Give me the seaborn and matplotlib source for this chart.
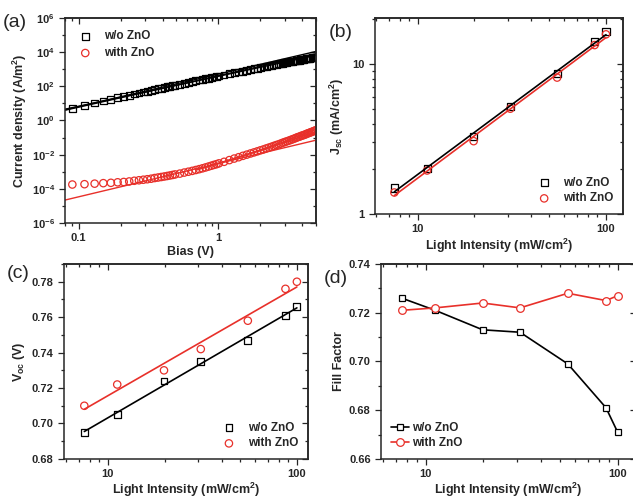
import numpy as np
import matplotlib
matplotlib.use("Agg")
import matplotlib.pyplot as plt
import matplotlib.ticker as mticker
import seaborn as sns

# ---------------- data ----------------
# (a) J-V curves
bias = [0.09, 0.11, 0.13, 0.15, 0.17, 0.19, 0.21, 0.23, 0.25, 0.27, 0.29,
        0.31, 0.33, 0.35, 0.37, 0.39, 0.41, 0.43, 0.45, 0.47, 0.49, 0.53,
        0.57, 0.61, 0.65, 0.69, 0.73, 0.77, 0.81, 0.85, 0.89, 0.93, 0.97,
        1.01, 1.1, 1.2, 1.3, 1.4, 1.5, 1.6, 1.7, 1.8, 1.9, 2.0, 2.1, 2.2,
        2.3, 2.4, 2.5, 2.6, 2.7, 2.8, 2.9, 3.0, 3.1, 3.2, 3.3, 3.4, 3.5,
        3.6, 3.7, 3.8, 3.9, 4.0, 4.1, 4.2, 4.3, 4.4, 4.5, 4.6, 4.7, 4.8,
        4.9, 5.0]
j_wo = [5.2, 7.7, 10.5, 13.8, 17.4, 21.4, 25.6, 30.4, 35.3, 40.6, 46.2,
        52.0, 58.2, 64.7, 71.4, 78.3, 85.7, 93.1, 101, 109, 117, 134,
        152, 171, 191, 212, 233, 256, 279, 303, 327, 352, 378,
        405, 467, 540, 616, 697, 780, 867, 957, 1050, 1147, 1247, 1349, 1452,
        1560, 1671, 1782, 1897, 2013, 2132, 2253, 2377, 2503, 2630, 2761, 2893, 3027,
        3162, 3299, 3439, 3581, 3722, 3868, 4015, 4161, 4312, 4463, 4616, 4773, 4924,
        5082, 5250]
j_with = [1.78e-4, 1.86e-4, 2.0e-4, 2.14e-4, 2.24e-4, 2.4e-4, 2.51e-4, 2.69e-4,
          2.95e-4, 3.16e-4, 3.39e-4, 3.63e-4, 3.89e-4, 4.27e-4, 4.57e-4, 4.9e-4,
          5.25e-4, 5.62e-4, 6.03e-4, 6.46e-4, 6.92e-4, 7.76e-4, 8.91e-4, 1.0e-3,
          1.12e-3, 1.26e-3, 1.41e-3, 1.58e-3, 1.78e-3, 2.0e-3, 2.24e-3, 2.51e-3,
          2.75e-3, 3.09e-3, 3.8e-3, 4.79e-3, 5.89e-3, 7.08e-3, 8.51e-3, 1.0e-2,
          1.17e-2, 1.35e-2, 1.55e-2, 1.78e-2, 2.0e-2, 2.29e-2,
          2.57e-2, 2.88e-2, 3.24e-2, 3.63e-2, 3.98e-2, 4.47e-2, 5.0e-2,
          5.5e-2, 6.03e-2, 6.61e-2, 7.24e-2, 7.94e-2, 8.71e-2,
          9.55e-2, 0.105, 0.112, 0.123, 0.132, 0.141, 0.151, 0.166, 0.178,
          0.191, 0.204, 0.219, 0.234, 0.251, 0.269]

# fitted lines in (a)
fit_v = [0.08, 5.0]
fit_wo_1 = [4.3, 11000]
fit_wo_2 = [4.0, 8000]
fit_wo_3 = [4.6, 6500]
fit_with_1 = [2.2e-5, 7.0e-2]
fit_curve_v = [0.7, 1.0, 2.0, 3.0, 4.0, 5.0]
fit_with_2 = [1.3e-3, 3.0e-3, 1.7e-2, 5.2e-2, 0.12, 0.22]
fit_with_3 = [1.3e-3, 3.1e-3, 1.9e-2, 6.0e-2, 0.15, 0.30]

# (b)-(d) light intensity dependence
intensity = [7.5, 11.2, 19.8, 31, 55, 87, 100]
jsc_wo = [1.49, 2.02, 3.27, 5.24, 8.6, 14.1, 16.4]
jsc_with = [1.39, 1.95, 3.06, 5.04, 8.13, 13.4, 15.8]
voc_wo = [0.695, 0.705, 0.724, 0.735, 0.747, 0.761, 0.766]
voc_with = [0.710, 0.722, 0.730, 0.742, 0.758, 0.776, 0.780]
ff_wo = [0.726, 0.721, 0.713, 0.712, 0.699, 0.681, 0.671]
ff_with = [0.721, 0.722, 0.724, 0.722, 0.728, 0.725, 0.727]

BLACK = "black"
RED = "#e8302a"

# ---------------- style ----------------
sns.set_style("ticks")
plt.rcParams["font.family"] = ["Liberation Sans", "DejaVu Sans"]
plt.rcParams["font.weight"] = "bold"
plt.rcParams["axes.labelweight"] = "bold"
plt.rcParams["mathtext.fontset"] = "custom"
plt.rcParams["mathtext.rm"] = "Liberation Sans:bold"
plt.rcParams["mathtext.it"] = "Liberation Sans:bold"
plt.rcParams["mathtext.bf"] = "Liberation Sans:bold"
plt.rcParams["mathtext.default"] = "rm"
plt.rcParams["axes.linewidth"] = 1.1

fig = plt.figure(figsize=(6.33, 5.01), dpi=100)
ax_a = fig.add_axes([0.103, 0.555, 0.396, 0.409])
ax_b = fig.add_axes([0.592, 0.573, 0.392, 0.391])
ax_c = fig.add_axes([0.101, 0.084, 0.385, 0.389])
ax_d = fig.add_axes([0.602, 0.084, 0.402, 0.389])

mk = dict(fc="none", linewidth=0.9)


def style_ticks(ax):
    # Origin-like: ticks outward on bottom/left, inward on top/right
    ax.tick_params(which="both", direction="out", labelsize=8, width=0.9)
    ax.tick_params(which="major", length=4)
    ax.tick_params(which="minor", length=2.2)
    for lab in ax.get_xticklabels() + ax.get_yticklabels():
        lab.set_fontweight("bold")
    xmaj = ax.xaxis.get_majorticklocs()
    xmin = ax.xaxis.get_minorticklocs()
    ymaj = ax.yaxis.get_majorticklocs()
    ymin = ax.yaxis.get_minorticklocs()
    sx = ax.secondary_xaxis("top")
    sy = ax.secondary_yaxis("right")
    for sec, maj, mnr in ((sx.xaxis, xmaj, xmin), (sy.yaxis, ymaj, ymin)):
        sec.set_major_locator(mticker.FixedLocator(maj))
        sec.set_minor_locator(mticker.FixedLocator(mnr))
        sec.set_major_formatter(mticker.NullFormatter())
        sec.set_minor_formatter(mticker.NullFormatter())
    for s in (sx, sy):
        s.tick_params(which="both", direction="in", width=0.9)
        s.tick_params(which="major", length=4)
        s.tick_params(which="minor", length=2.2)


# ---------------- (a) ----------------
ax = ax_a
ax.set_xscale("log")
ax.set_yscale("log")
for yy in (fit_wo_1, fit_wo_2, fit_wo_3):
    sns.lineplot(x=fit_v, y=yy, ax=ax, color=BLACK, lw=1.0)
sns.lineplot(x=fit_v, y=fit_with_1, ax=ax, color=RED, lw=1.0)
for yy in (fit_with_2, fit_with_3):
    sns.lineplot(x=fit_curve_v, y=yy, ax=ax, color=RED, lw=1.0)
sns.scatterplot(x=bias, y=j_wo, ax=ax, marker="s", s=24, ec=BLACK,
                label="w/o ZnO", **mk)
sns.scatterplot(x=bias, y=j_with, ax=ax, marker="o", s=28, ec=RED,
                label="with ZnO", **mk)
ax.set_xlim(0.08, 5.0)
ax.set_ylim(1e-6, 1e6)
ax.yaxis.set_major_locator(mticker.FixedLocator([10.0 ** k for k in range(-6, 7, 2)]))
ax.yaxis.set_minor_locator(mticker.FixedLocator([10.0 ** k for k in range(-5, 6, 2)]))
ax.yaxis.set_major_formatter(mticker.LogFormatterSciNotation())
ax.yaxis.set_minor_formatter(mticker.NullFormatter())
ax.xaxis.set_major_locator(mticker.FixedLocator([0.1, 1]))
ax.xaxis.set_major_formatter(mticker.FixedFormatter(["0.1", "1"]))
ax.xaxis.set_minor_locator(mticker.LogLocator(base=10, subs=np.arange(2, 10)))
ax.xaxis.set_minor_formatter(mticker.NullFormatter())
ax.set_xlabel("Bias (V)", fontsize=9, labelpad=2)
ax.set_ylabel("Current density (A/m$^2$)", fontsize=9, labelpad=2)
ax.legend(loc="upper left", bbox_to_anchor=(0.0, 0.98), frameon=False,
          fontsize=8.5, handletextpad=0.6, labelspacing=0.4, borderaxespad=0.3)
style_ticks(ax)

# ---------------- (b) ----------------
ax = ax_b
ax.set_xscale("log")
ax.set_yscale("log")
xfit = np.array([min(intensity), max(intensity)])
for yy, col in ((jsc_wo, BLACK), (jsc_with, RED)):
    p = np.polyfit(np.log10(intensity), np.log10(yy), 1)
    sns.lineplot(x=xfit, y=10 ** np.polyval(p, np.log10(xfit)), ax=ax,
                 color=col, lw=1.2)
sns.scatterplot(x=intensity, y=jsc_wo, ax=ax, marker="s", s=26, ec=BLACK,
                label="w/o ZnO", **mk)
sns.scatterplot(x=intensity, y=jsc_with, ax=ax, marker="o", s=28, ec=RED,
                label="with ZnO", **mk)
ax.set_xlim(5.9, 123)
ax.set_ylim(1, 20.3)
for axis in (ax.xaxis, ax.yaxis):
    axis.set_major_formatter(mticker.FuncFormatter(lambda v, pos: "%g" % v))
    axis.set_minor_formatter(mticker.NullFormatter())
ax.set_xlabel("Light Intensity (mW/cm$^2$)", fontsize=9, labelpad=2)
ax.set_ylabel("J$_{sc}$ (mA/cm$^2$)", fontsize=9, labelpad=4)
ax.legend(loc="lower right", frameon=False, fontsize=8.5,
          handletextpad=0.6, labelspacing=0.3, borderaxespad=0.4)
style_ticks(ax)

# ---------------- (c) ----------------
ax = ax_c
ax.set_xscale("log")
for yy, col in ((voc_wo, BLACK), (voc_with, RED)):
    sns.regplot(x=np.array(intensity), y=np.array(yy), ax=ax, logx=True,
                scatter=False, ci=None, color=col, line_kws=dict(lw=1.2))
sns.scatterplot(x=intensity, y=voc_wo, ax=ax, marker="s", s=24, ec=BLACK,
                label="w/o ZnO", **mk)
sns.scatterplot(x=intensity, y=voc_with, ax=ax, marker="o", s=28, ec=RED,
                label="with ZnO", **mk)
ax.set_xlim(5.85, 114)
ax.set_ylim(0.68, 0.79)
ax.yaxis.set_major_locator(mticker.MultipleLocator(0.02))
ax.yaxis.set_minor_locator(mticker.MultipleLocator(0.01))
ax.yaxis.set_major_formatter(mticker.FormatStrFormatter("%.2f"))
ax.xaxis.set_major_formatter(mticker.FuncFormatter(lambda v, pos: "%g" % v))
ax.xaxis.set_minor_formatter(mticker.NullFormatter())
ax.set_xlabel("Light Intensity (mW/cm$^2$)", fontsize=9, labelpad=1)
ax.set_ylabel("V$_{oc}$ (V)", fontsize=9, labelpad=3)
ax.legend(loc="lower right", frameon=False, fontsize=8.5,
          handletextpad=0.6, labelspacing=0.3, borderaxespad=0.4)
style_ticks(ax)

# ---------------- (d) ----------------
ax = ax_d
ax.set_xscale("log")
sns.lineplot(x=intensity, y=ff_wo, ax=ax, color=BLACK, lw=1.2, marker="s",
             markersize=5, markerfacecolor="white", markeredgecolor=BLACK,
             markeredgewidth=0.9, label="w/o ZnO")
sns.lineplot(x=intensity, y=ff_with, ax=ax, color=RED, lw=1.2, marker="o",
             markersize=5.5, markerfacecolor="white", markeredgecolor=RED,
             markeredgewidth=0.9, label="with ZnO")
ax.set_xlim(5.85, 124)
ax.set_ylim(0.66, 0.74)
ax.yaxis.set_major_locator(mticker.MultipleLocator(0.02))
ax.yaxis.set_minor_locator(mticker.MultipleLocator(0.01))
ax.yaxis.set_major_formatter(mticker.FormatStrFormatter("%.2f"))
ax.xaxis.set_major_formatter(mticker.FuncFormatter(lambda v, pos: "%g" % v))
ax.xaxis.set_minor_formatter(mticker.NullFormatter())
ax.set_xlabel("Light Intensity (mW/cm$^2$)", fontsize=9, labelpad=1)
ax.set_ylabel("Fill Factor", fontsize=9, labelpad=3)
ax.legend(loc="lower left", frameon=False, fontsize=8.5, handlelength=1.6,
          handletextpad=0.2, labelspacing=0.3, borderaxespad=0.4)
style_ticks(ax)

# panel letters
for x, y, t in ((0.005, 0.955, "(a)"), (0.52, 0.935, "(b)"),
                (0.01, 0.455, "(c)"), (0.512, 0.445, "(d)")):
    fig.text(x, y, t, fontsize=14, fontweight="normal", va="center")

fig.savefig("out.png", dpi=100)
